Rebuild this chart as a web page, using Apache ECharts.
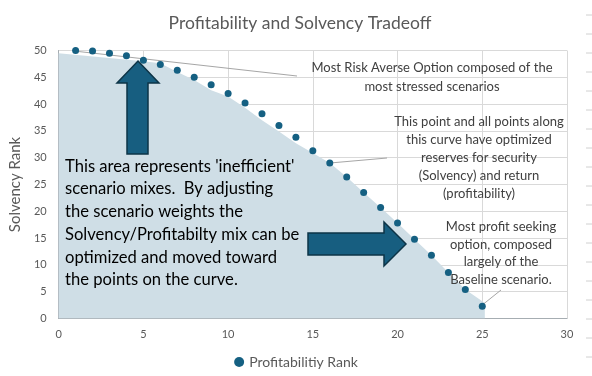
<!DOCTYPE html>
<html>
<head>
<meta charset="utf-8">
<script src="https://cdn.jsdelivr.net/npm/echarts@6/dist/echarts.min.js"></script>
<style>
  html, body { margin: 0; padding: 0; background: #fff; }
  #chart { width: 592px; height: 376px; }
</style>
</head>
<body>
<div id="chart"></div>
<script>
// profitability rank (x) vs solvency rank (y)
const profitRank = [1, 2, 3, 4, 5, 6, 7, 8, 9, 10, 11, 12, 13, 14, 15, 16, 17, 18, 19, 20, 21, 22, 23, 24, 25];
const solvencyRank = [50, 49.9, 49.5, 49.0, 48.2, 47.4, 46.3, 45.0, 43.6, 42.0, 40.2, 38.2, 36.0, 33.8, 31.3, 29.0, 26.4, 23.5, 20.7, 17.8, 14.8, 11.8, 8.6, 5.4, 2.3];

// shaded 'inefficient' region under the frontier
const regionX = [0, 5, 6, 7, 8, 9, 10, 11, 12, 13, 14, 15, 16, 17, 18, 19, 20, 21, 22, 23, 24, 25.15, 25.15];
const regionY = [49.5, 48.0, 47.6, 46.0, 44.5, 42.6, 41.4, 39.3, 37.0, 34.9, 32.7, 30.9, 29.0, 26.4, 23.5, 20.7, 17.8, 14.8, 11.8, 8.6, 5.4, 2.9, 0];

const xTicks = { min: 0, max: 30, interval: 5 };
const yTicks = { min: 0, max: 50, interval: 5 };

const seriesName = 'Profitabilitiy Rank';
const mainNote = "This area represents 'inefficient'\nscenario mixes.  By adjusting\nthe scenario weights the\nSolvency/Profitabilty mix can be\noptimized and moved toward\nthe points on the curve.";
const noteTop = 'Most Risk Averse Option composed of the\nmost stressed scenarios';
const noteMid = 'This point and all points along\nthis curve have optimized\nreserves for security\n(Solvency) and return\n(profitability)';
const noteLow = 'Most profit seeking\noption, composed\nlargely of the\nBaseline scenario.';

const chart = echarts.init(document.getElementById('chart'));

const fontFam = 'Lato, "Noto Sans", sans-serif';
const arrowFill = '#175e80';
const arrowStroke = '#0d3447';
const noteFont = '13px ' + fontFam;

const sheetTicks = [];
for (let y = 15; y < 376; y += 19) {
    sheetTicks.push({ type: 'line', shape: { x1: 586, y1: y, x2: 592, y2: y }, style: { stroke: '#d0d0d0', lineWidth: 1 } });
}

const option = {
    animation: false,
    backgroundColor: '#fff',
    title: {
        text: 'Profitability and Solvency Tradeoff',
        left: 295, top: 9, textAlign: 'center',
        textStyle: { color: '#595959', fontSize: 17.5, fontWeight: 'normal', fontFamily: fontFam }
    },
    legend: {
        data: [seriesName],
        bottom: 2, left: 'center',
        itemWidth: 10, itemHeight: 10, itemGap: 4,
        icon: 'circle',
        textStyle: { color: '#595959', fontSize: 14, fontFamily: fontFam }
    },
    grid: { left: 57, right: 25, top: 50.5, bottom: 57.5 },
    xAxis: {
        type: 'value', min: xTicks.min, max: xTicks.max, interval: xTicks.interval,
        axisLine: { show: true, onZero: false, lineStyle: { color: '#a6adb2' } },
        axisTick: { show: false },
        axisLabel: { color: '#595959', fontSize: 11, margin: 10, fontFamily: fontFam },
        splitLine: { show: true, lineStyle: { color: '#d9d9d9' } }
    },
    yAxis: {
        type: 'value', min: yTicks.min, max: yTicks.max, interval: yTicks.interval,
        name: 'Solvency Rank', nameLocation: 'middle', nameGap: 31, nameRotate: 90,
        nameTextStyle: { color: '#595959', fontSize: 15, fontFamily: fontFam },
        axisLine: { show: true, lineStyle: { color: '#a6adb2' } },
        axisTick: { show: false },
        axisLabel: { color: '#595959', fontSize: 11, margin: 12, fontFamily: fontFam },
        splitLine: { show: true, lineStyle: { color: '#d9d9d9' } }
    },
    series: [
        {
            name: 'region',
            type: 'line',
            data: regionX.map((x, i) => [x, regionY[i]]),
            showSymbol: false,
            silent: true,
            lineStyle: { width: 0 },
            areaStyle: { color: '#cfdee6', opacity: 1 },
            z: 1
        },
        {
            name: seriesName,
            type: 'scatter',
            data: profitRank.map((x, i) => [x, solvencyRank[i]]),
            symbolSize: 7,
            itemStyle: { color: '#156082', opacity: 1 },
            z: 5
        }
    ],
    graphic: [
        { type: 'line', z: 3, shape: { x1: 74, y1: 51, x2: 297, y2: 76 }, style: { stroke: '#a6a6a6', lineWidth: 1 } },
        { type: 'line', z: 3, shape: { x1: 330, y1: 163, x2: 387, y2: 158 }, style: { stroke: '#a6a6a6', lineWidth: 1 } },
        { type: 'line', z: 3, shape: { x1: 481, y1: 306, x2: 501, y2: 290 }, style: { stroke: '#a6a6a6', lineWidth: 1 } },
        {
            type: 'polygon', z: 10,
            shape: { points: [[138, 61], [159, 83], [148, 83], [148, 154], [127, 154], [127, 83], [117, 83]] },
            style: { fill: arrowFill, stroke: arrowStroke, lineWidth: 1.5 }
        },
        {
            type: 'polygon', z: 10,
            shape: { points: [[406, 244], [384, 266], [384, 255], [308, 255], [308, 233], [384, 233], [384, 222]] },
            style: { fill: arrowFill, stroke: arrowStroke, lineWidth: 1.5 }
        },
        {
            type: 'text', z: 10, left: 65, top: 155,
            style: { text: mainNote, fill: '#000', font: '16.6px ' + fontFam, lineHeight: 22.7 }
        },
        {
            type: 'text', z: 10, x: 432, y: 59,
            style: { text: noteTop, fill: '#404040', font: noteFont, lineHeight: 18.4, align: 'center' }
        },
        {
            type: 'text', z: 10, x: 479, y: 113,
            style: { text: noteMid, fill: '#404040', font: noteFont, lineHeight: 17.9, align: 'center' }
        },
        {
            type: 'text', z: 10, x: 501, y: 218,
            style: { text: noteLow, fill: '#404040', font: noteFont, lineHeight: 17.6, align: 'center' }
        }
    ].concat(sheetTicks)
};

chart.setOption(option);
</script>
</body>
</html>
